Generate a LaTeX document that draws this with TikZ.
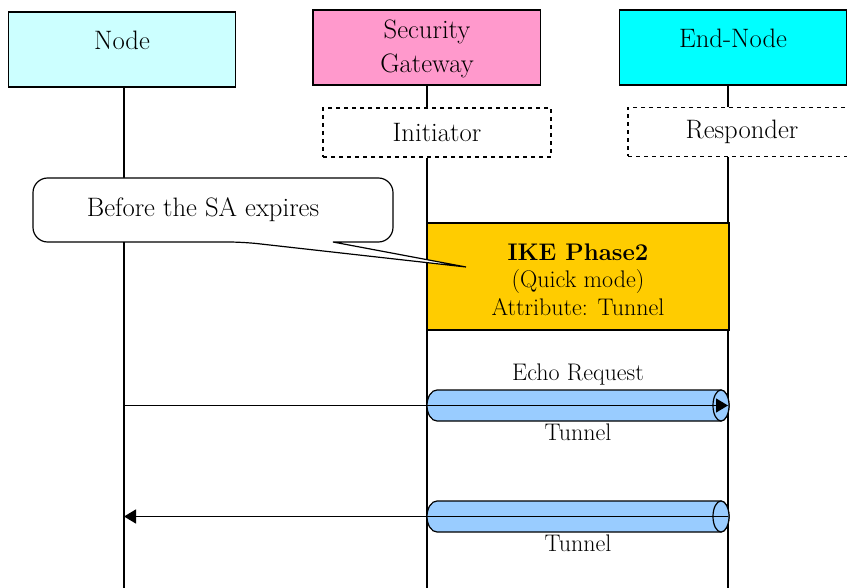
\documentclass[tikz,border=0pt]{standalone}
\usepackage{tikz}
\usepackage{xcolor}
\usetikzlibrary{arrows.meta}

\definecolor{nodecyan}{HTML}{CCFFFF}
\definecolor{sgpink}{HTML}{FF99CC}
\definecolor{endcyan}{HTML}{00FFFF}
\definecolor{ikegold}{HTML}{FFCC00}
\definecolor{tunnelblue}{HTML}{99CCFF}

\begin{document}
\begin{tikzpicture}[x=0.75pt,y=0.75pt,yscale=-1,
    host/.style={draw, line width=1pt, inner sep=0pt, minimum width=170.5pt, minimum height=56.25pt},
    role/.style={draw, dashed, line width=0.8pt, inner sep=0pt, minimum width=171pt, minimum height=36.75pt},
    big/.style={font=\fontsize{20}{25.5}\selectfont},
    small/.style={font=\fontsize{18}{20.5}\selectfont},
    tube/.style={draw, line width=0.9pt, fill=tunnelblue},
    msg/.style={line width=1pt, -{Triangle[length=9pt,width=10.5pt]}}]

    \useasboundingbox (0,0) rectangle (847,588);

    \draw (122,49.5)   node [host, fill=nodecyan] (nodebox) {};
    \draw (426.5,47.5) node [host, fill=sgpink] (sgbox) {};
    \draw (733,47.5)   node [host, fill=endcyan] (endbox) {};
    \draw (122,40)     node [big] (nodetxt) {Node};
    \draw (427,49)     node [big, align=center] (sgtxt) {Security\\Gateway};
    \draw (733,38)     node [big] (endtxt) {End-Node};
    \draw (437,132.5)  node [role, big] (init) {Initiator};
    \draw (742,132)    node [role, big] (resp) {Responder};

    \coordinate (nodeline) at (124,588);
    \coordinate (sgline) at (427,588);
    \coordinate (endline) at (728,588);
    \draw [line width=0.9pt] (nodeline |- nodebox.south) -- (nodeline);
    \draw [line width=0.9pt] (sgline |- sgbox.south) -- (sgline |- init.north);
    \draw [line width=0.9pt] (sgline |- init.south) -- (sgline);
    \draw [line width=0.9pt] (endline |- endbox.south) -- (endline |- resp.north);
    \draw [line width=0.9pt] (endline |- resp.south) -- (endline);

    \draw (578,276.5) node [draw, line width=1pt, fill=ikegold, inner sep=0pt, minimum width=226.5pt, minimum height=80.25pt] (ike) {};
    \draw (578,279.5) node [small, align=center] (iketxt) {\textbf{IKE Phase2}\\(Quick mode)\\Attribute: Tunnel};

    \draw [line width=0.9pt, fill=white, rounded corners=11pt] (333,242) -- (393,242) -- (393,178) -- (33,178) -- (33,242) -- (243,242) [sharp corners] -- (466,267) -- cycle;
    \draw (203,210) node [big] (sanote) {Before the SA expires};

    \coordinate (tunA) at (578,405.5);
    \coordinate (tunB) at (578,516.5);
    \draw [tube] (437,390) -- (721,390) arc [start angle=-90, end angle=90, x radius=8, y radius=15.5] -- (437,421) arc [start angle=90, end angle=270, x radius=10, y radius=15.5] -- cycle;
    \draw [tube] (721,405.5) ellipse [x radius=8, y radius=15.5];
    \draw [tube] (437,501) -- (721,501) arc [start angle=-90, end angle=90, x radius=8, y radius=15.5] -- (437,532) arc [start angle=90, end angle=270, x radius=10, y radius=15.5] -- cycle;
    \draw [tube] (721,516.5) ellipse [x radius=8, y radius=15.5];
    \draw (578,375) node [small] (echotxt) {Echo Request};
    \draw (578,432) node [small] (tunAtxt) {Tunnel};
    \draw (578,543) node [small] (tunBtxt) {Tunnel};

    \draw [msg] (nodeline |- tunA) -- (endline |- tunA);
    \draw [msg] (endline |- tunB) -- (nodeline |- tunB);

\end{tikzpicture}
\end{document}
